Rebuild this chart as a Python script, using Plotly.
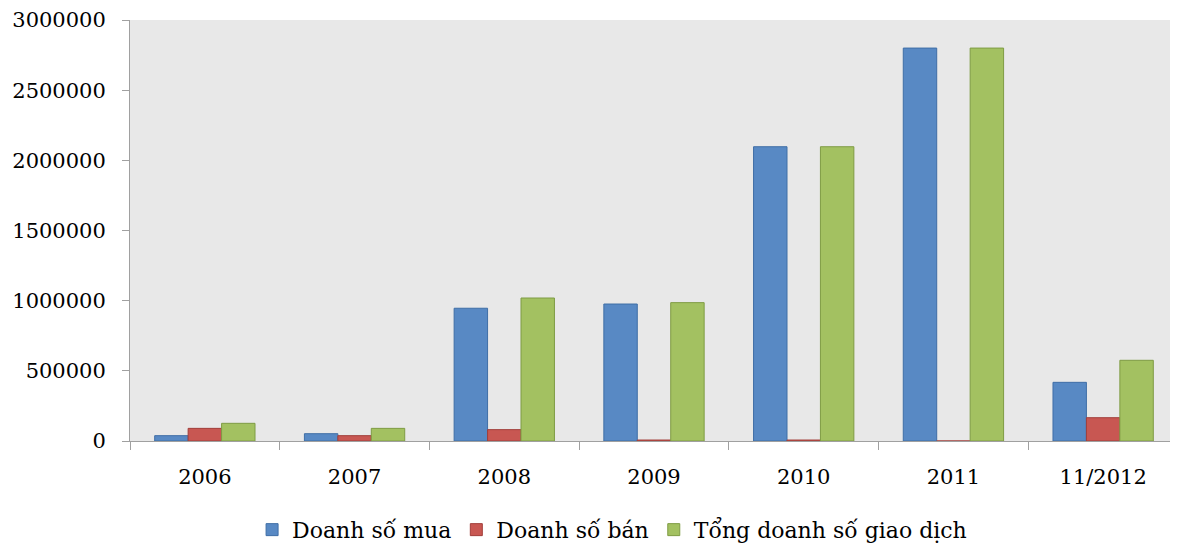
import plotly.graph_objects as go

categories = ["2006", "2007", "2008", "2009", "2010", "2011", "11/2012"]
doanh_so_mua = [38000, 52000, 946000, 976000, 2097000, 2800000, 418000]
doanh_so_ban = [90000, 38000, 81000, 7000, 7000, 0, 166000]
tong_doanh_so = [126000, 90000, 1019000, 986000, 2097000, 2800000, 575000]

series = [
    ("Doanh số mua", doanh_so_mua, "#5889C4", "#3F6EA6"),
    ("Doanh số bán", doanh_so_ban, "#C85752", "#A23E3A"),
    ("Tổng doanh số giao dịch", tong_doanh_so, "#A3C161", "#7F9C44"),
]

SERIF = "DejaVu Serif"

fig = go.Figure()
for name, vals, fill, edge in series:
    fig.add_trace(
        go.Bar(
            x=categories,
            y=vals,
            name=name,
            marker=dict(color=fill, line=dict(color=edge, width=1)),
        )
    )

# page body has an 8px margin, so the figure is a bit smaller than the window
fig.update_layout(
    width=1170,
    height=536,
    barmode="group",
    bargap=0.33,
    bargroupgap=0,
    paper_bgcolor="white",
    plot_bgcolor="#E8E8E8",
    font=dict(family=SERIF, size=21, color="black"),
    margin=dict(l=122, r=0, t=12, b=103, pad=0, autoexpand=False),
    legend=dict(
        orientation="h",
        x=0.46,
        xanchor="center",
        y=-0.211,
        yanchor="middle",
        font=dict(family=SERIF, size=22),
        itemwidth=30,
    ),
)

fig.update_xaxes(
    type="category",
    tickson="boundaries",
    ticks="outside",
    ticklen=8,
    tickcolor="#A0A0A0",
    showline=True,
    linecolor="#A0A0A0",
    linewidth=1,
    showgrid=False,
    ticklabelstandoff=17,
    automargin=False,
    tickfont=dict(family=SERIF, size=21),
)
fig.update_yaxes(
    range=[0, 3000000],
    dtick=500000,
    tickformat="d",
    ticks="outside",
    ticklen=7,
    tickcolor="#A0A0A0",
    showline=True,
    linecolor="#A0A0A0",
    linewidth=1,
    showgrid=False,
    zeroline=False,
    ticklabelstandoff=12,
    automargin=False,
    tickfont=dict(family=SERIF, size=21),
)

fig.write_html("out.html")
